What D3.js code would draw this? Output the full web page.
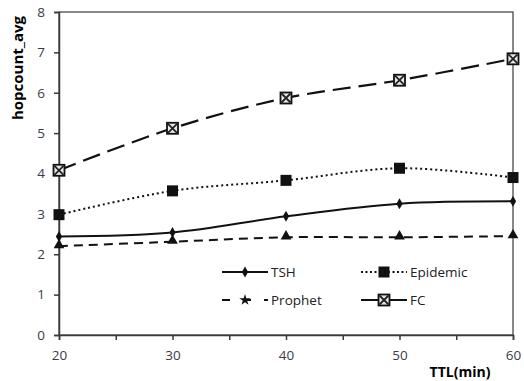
<!DOCTYPE html>
<html>
<head>
<meta charset="utf-8">
<script src="https://cdn.jsdelivr.net/npm/d3@7"></script>
<style>
  body { margin: 0; background: #fff; }
  text { font-family: "Open Sans", "Noto Sans", sans-serif; }
</style>
</head>
<body>
<div id="chart"></div>
<script>
// data
var ttl = [20, 30, 40, 50, 60];
var tsh = [2.44, 2.54, 2.94, 3.25, 3.31];
var epidemic = [2.98, 3.57, 3.83, 4.13, 3.9];
var prophet = [2.2, 2.31, 2.42, 2.42, 2.45];
var fc = [4.08, 5.12, 5.87, 6.31, 6.84];
var xTicks = [20, 25, 30, 35, 40, 45, 50, 55, 60];
var yTicks = [0, 1, 2, 3, 4, 5, 6, 7, 8];

var W = 524, H = 381;
var margin = {top: 12, right: 11, bottom: 46, left: 59};
var width = W - margin.left - margin.right, height = H - margin.top - margin.bottom;

var svg = d3.select("#chart").append("svg")
    .attr("width", W).attr("height", H)
  .append("g")
    .attr("transform", "translate(" + margin.left + "," + margin.top + ")");

var x = d3.scaleLinear().domain([20, 60]).range([0, width]);
var y = d3.scaleLinear().domain([0, 8]).range([height, 0]);

var axisColor = "#3a3a3a";

// frame
svg.append("rect")
    .attr("width", width).attr("height", height)
    .attr("fill", "none").attr("stroke", axisColor).attr("stroke-width", 1.2);

// X axis
var gx = svg.append("g")
    .attr("transform", "translate(0," + height + ")")
    .call(d3.axisBottom(x).tickValues(xTicks).tickSize(5).tickPadding(10)
      .tickFormat(function(d) { return d % 10 === 0 ? d : ""; }));
// Y axis
var gy = svg.append("g")
    .call(d3.axisLeft(y).tickValues(yTicks).tickSize(5).tickPadding(9));

[gx, gy].forEach(function(g) {
  g.select(".domain").attr("stroke", axisColor).attr("stroke-width", 1.5);
  g.selectAll(".tick line").attr("stroke", axisColor).attr("stroke-width", 1.5);
  g.selectAll(".tick text").attr("fill", "#3b3b4a").attr("font-size", 13.5)
    .style("font-family", "'Open Sans', sans-serif");
});

// axis titles
svg.append("text")
    .attr("transform", "rotate(-90)")
    .attr("x", -56).attr("y", -36)
    .attr("text-anchor", "middle")
    .attr("font-size", 15).attr("font-weight", "bold")
    .text("hopcount_avg");

svg.append("text")
    .attr("x", 460 - margin.left).attr("y", 377 - margin.top)
    .attr("text-anchor", "middle")
    .attr("font-size", 14).attr("font-weight", "bold")
    .text("TTL(min)");

var series = [
  {name: "TSH", values: tsh, dash: null, width: 2, marker: "diamond"},
  {name: "Epidemic", values: epidemic, dash: "2,3", width: 2, marker: "square"},
  {name: "Prophet", values: prophet, dash: "9,6", width: 2, marker: "triangle"},
  {name: "FC", values: fc, dash: "18,8", width: 2.2, marker: "xsquare"}
];

var line = d3.line()
    .x(function(d) { return x(d[0]); })
    .y(function(d) { return y(d[1]); })
    .curve(d3.curveCatmullRom.alpha(0.5));

function drawMarker(g, type, cx, cy) {
  if (type === "diamond") {
    g.append("path")
      .attr("d", d3.symbol().type(d3.symbolDiamond).size(34)())
      .attr("transform", "translate(" + cx + "," + cy + ")")
      .attr("fill", "#111");
  } else if (type === "square") {
    g.append("rect")
      .attr("x", cx - 5.5).attr("y", cy - 5.5).attr("width", 11).attr("height", 11)
      .attr("fill", "#111");
  } else if (type === "triangle") {
    g.append("path")
      .attr("d", d3.symbol().type(d3.symbolTriangle).size(50)())
      .attr("transform", "translate(" + cx + "," + (cy - 1) + ")")
      .attr("fill", "#111");
  } else if (type === "star") {
    g.append("path")
      .attr("d", d3.symbol().type(d3.symbolStar).size(40)())
      .attr("transform", "translate(" + cx + "," + cy + ")")
      .attr("fill", "#111");
  } else {
    g.append("rect")
      .attr("x", cx - 5.5).attr("y", cy - 5.5).attr("width", 11).attr("height", 11)
      .attr("fill", "#e8e8e8").attr("stroke", "#111").attr("stroke-width", 1.8);
    g.append("path")
      .attr("d", "M" + (cx - 4.5) + "," + (cy - 4.5) + "L" + (cx + 4.5) + "," + (cy + 4.5) +
                 "M" + (cx + 4.5) + "," + (cy - 4.5) + "L" + (cx - 4.5) + "," + (cy + 4.5))
      .attr("stroke", "#222").attr("stroke-width", 1.8);
  }
}

series.forEach(function(s) {
  var pts = ttl.map(function(t, i) { return [t, s.values[i]]; });
  svg.append("path")
    .datum(pts)
    .attr("fill", "none")
    .attr("stroke", "#111")
    .attr("stroke-width", s.width)
    .attr("stroke-dasharray", s.dash)
    .attr("d", line);
  var mg = svg.append("g");
  pts.forEach(function(p) { drawMarker(mg, s.marker, x(p[0]), y(p[1])); });
});

// legend
var legendItems = [
  {s: series[0], lx: 222, ly: 272, dash: null, marker: "diamond"},
  {s: series[1], lx: 361, ly: 272, dash: "2,2.5", marker: "square"},
  {s: series[2], lx: 222, ly: 300, dash: "8,13", marker: "star"},
  {s: series[3], lx: 361, ly: 300, dash: null, marker: "xsquare"}
];
var legend = d3.select("svg").append("g").attr("class", "legend");
legendItems.forEach(function(d) {
  legend.append("line")
    .attr("x1", d.lx).attr("x2", d.lx + 46)
    .attr("y1", d.ly).attr("y2", d.ly)
    .attr("stroke", "#111").attr("stroke-width", 2)
    .attr("stroke-dasharray", d.dash);
  drawMarker(legend, d.marker, d.lx + 23, d.ly);
  legend.append("text")
    .attr("x", d.lx + 49).attr("y", d.ly)
    .attr("dy", "0.35em")
    .attr("font-size", 13.5)
    .attr("fill", "#222")
    .text(d.s.name);
});
</script>
</body>
</html>
